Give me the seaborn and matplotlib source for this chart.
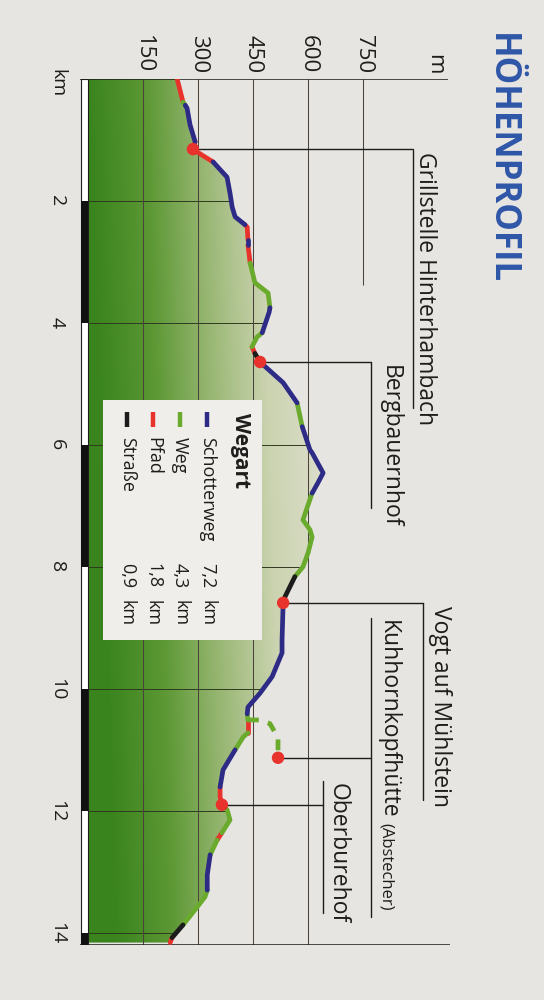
import numpy as np
import pandas as pd
import matplotlib
matplotlib.use('Agg')
import matplotlib.pyplot as plt
import seaborn as sns
from matplotlib.colors import LinearSegmentedColormap
from matplotlib.patches import Rectangle

# --- data ------------------------------------------------------------------
profile_km = [0.00, 0.38, 0.43, 0.48, 0.75, 1.03, 1.15, 1.26, 1.36, 1.61,
              1.87, 2.10, 2.26, 2.39, 2.43, 2.64, 2.72, 3.02, 3.34, 3.51,
              3.75, 3.82, 4.16, 4.23, 4.39, 4.50, 4.64, 4.98, 5.31, 5.70,
              6.08, 6.13, 6.46, 6.62, 6.79, 7.23, 7.39, 7.51, 7.77, 8.00,
              8.16, 8.49, 8.59, 9.20, 9.41, 9.80, 10.07, 10.30, 10.41, 10.51,
              10.72, 10.79, 11.00, 11.33, 11.61, 11.77, 11.90, 11.98, 12.15, 12.36,
              12.48, 12.72, 13.05, 13.30, 13.41, 13.62, 13.87, 14.08, 14.16]
profile_elev = [243, 259, 265, 270, 278, 292, 286, 314, 341, 379,
                387, 393, 401, 428, 434, 436, 436, 442, 455, 491,
                496, 494, 475, 461, 447, 455, 469, 532, 570, 584,
                605, 611, 641, 627, 611, 586, 605, 611, 600, 586,
                564, 537, 532, 529, 529, 502, 469, 436, 434, 436,
                436, 423, 401, 368, 360, 360, 365, 379, 387, 365,
                352, 333, 325, 325, 319, 292, 259, 229, 224]
# path type of each stretch between two neighbouring points
profile_type = ['Pfad', 'Weg', 'Schotterweg', 'Schotterweg', 'Schotterweg', 'Pfad', 'Pfad', 'Pfad',
                'Schotterweg', 'Schotterweg', 'Schotterweg', 'Schotterweg', 'Schotterweg',
                'Pfad', 'Pfad', 'Schotterweg', 'Pfad', 'Weg', 'Weg', 'Weg',
                'Schotterweg', 'Schotterweg', 'Weg', 'Weg', 'Pfad', 'Straße',
                'Schotterweg', 'Schotterweg', 'Weg', 'Schotterweg', 'Schotterweg', 'Schotterweg',
                'Schotterweg', 'Schotterweg', 'Weg', 'Weg', 'Weg', 'Weg', 'Weg', 'Weg',
                'Straße', 'Straße', 'Schotterweg', 'Schotterweg', 'Schotterweg', 'Schotterweg',
                'Schotterweg', 'Schotterweg', 'Weg', 'Pfad', 'Weg', 'Weg',
                'Schotterweg', 'Schotterweg', 'Pfad', 'Pfad', 'Weg', 'Weg', 'Weg', 'Pfad',
                'Weg', 'Schotterweg', 'Schotterweg', 'Weg', 'Weg', 'Weg', 'Straße', 'Pfad']

# side trip (Abstecher) to the Kuhhornkopfhütte
spur_km = [10.51, 10.51, 10.57, 10.80, 11.13]
spur_elev = [436, 469, 496, 518, 518]

stop_names = ['Grillstelle Hinterhambach', 'Bergbauernhof', 'Vogt auf Mühlstein',
              'Kuhhornkopfhütte', 'Oberburehof']
stop_km = [1.15, 4.64, 8.59, 11.13, 11.90]
stop_elev = [286, 469, 532, 518, 365]

wegart_names = ['Schotterweg', 'Weg', 'Pfad', 'Straße']
wegart_lengths = ['7,2', '4,3', '1,8', '0,9']

elev_ticks = [150, 300, 450, 600, 750]
km_ticks = [0, 2, 4, 6, 8, 10, 12, 14]
km_tick_labels = ['km', '2', '4', '6', '8', '10', '12', '14']
km_total = 14.2

# --- styling ---------------------------------------------------------------
bg = '#e7e5e1'
ink = '#1f1d1b'
palette = {'Schotterweg': '#2d2b86', 'Weg': '#6aab2d', 'Pfad': '#e8332d', 'Straße': '#1c1c1c'}

sns.set_style('white')
plt.rcParams['font.family'] = ['Open Sans', 'DejaVu Sans']

fig = plt.figure(figsize=(5.44, 10), dpi=100)
fig.patch.set_facecolor(bg)
ax = fig.add_axes([80 / 544, 0.055, 370 / 544, 0.866])
ax.set_facecolor(bg)
ax.axis('off')

# gradient-filled terrain under the profile
cmap = LinearSegmentedColormap.from_list(
    'terrain_green', [(0, '#3a841e'), (0.25, '#5c9834'), (0.5, '#99b774'),
                      (0.75, '#cbd3b0'), (1, '#dddfcd')])
ee = np.linspace(0, 700, 300)
kk = np.linspace(0, km_total, 200)
E, K = np.meshgrid(ee, kk)
T = np.clip(E / 620 - 0.12 * K / km_total, 0, 1)
im = ax.imshow(T, extent=[0, 700, km_total, 0], origin='upper', cmap=cmap,
               vmin=0, vmax=1, aspect='auto', zorder=1)
area = ax.fill_betweenx(profile_km, 0, profile_elev, facecolor='none', edgecolor='none')
clip = area.get_paths()[0]
im.set_clip_path(clip, ax.transData)

# grid
hl = ax.hlines(km_ticks[1:], 0, 700, colors='#2e3a1f', lw=0.7, zorder=2)
hl.set_clip_path(clip, ax.transData)
ax.vlines(elev_ticks[:4], 0, km_total, colors='#4b4339', lw=0.75, zorder=2)
ax.vlines(elev_ticks[4], 0, 3.38, colors='#4b4339', lw=0.75, zorder=2)
ax.hlines(0, -22, 982, colors=ink, lw=1.1, zorder=3)
ax.hlines(km_total, -22, 987, colors=ink, lw=1.1, zorder=3)

# km scale bar on the left edge
ax.add_patch(Rectangle((-19, 0), 19, km_total, fc='white', ec=ink, lw=0.8, zorder=3))
for k0 in km_ticks[1::2]:
    ax.add_patch(Rectangle((-19, k0), 19, min(2, km_total - k0), fc='#111111', ec='none', zorder=3))

# legend box
ax.add_patch(Rectangle((41, 5.26), 433, 3.94, fc='#efeeea', ec='none', zorder=4))

# profile line, split into runs of one path type
rows = []
run = 0
for i, t in enumerate(profile_type):
    if i > 0 and t != profile_type[i - 1]:
        run += 1
    for j in (i, i + 1):
        rows.append({'km': profile_km[j], 'elev': profile_elev[j], 'wegart': t, 'run': run})
df = pd.DataFrame(rows)
sns.lineplot(data=df, x='elev', y='km', hue='wegart', units='run', estimator=None,
             sort=False, orient='y', palette=palette, legend=False, lw=3.4,
             solid_capstyle='round', zorder=5, ax=ax)

spur = pd.DataFrame({'km': spur_km, 'elev': spur_elev})
sns.lineplot(data=spur, x='elev', y='km', estimator=None, sort=False, orient='y',
             color=palette['Weg'], lw=3.4, linestyle=(0, (2.3, 2.0)), zorder=5, ax=ax)

ax.set_xlim(-22, 987)
ax.set_ylim(km_total, 0)

# leader lines and stop names (layout: leader end, underline start/end, text start)
layout = [(886, 1.16, 5.39, 903, 1.20),
          (772, 4.64, 7.03, 806, 4.69),
          (914, 8.59, 11.82, 944, 8.64),
          (772, 8.84, 13.74, 800, 8.87),
          (641, 11.51, 13.67, 663, 11.54)]
kuhhorn = None
for name, k, e, (lx, u0, u1, tx, ty) in zip(stop_names, stop_km, stop_elev, layout):
    ax.plot([e, lx], [k, k], color=ink, lw=1.0, zorder=4)
    ax.plot([lx, lx], [u0, u1], color=ink, lw=1.0, zorder=4)
    t = ax.text(tx, ty, name, rotation=-90, rotation_mode='anchor', ha='left',
                va='baseline', fontsize=16.5, color=ink, clip_on=False)
    if name == 'Kuhhornkopfhütte':
        kuhhorn = (t, tx)

# "(Abstecher)" follows the hut name in a smaller size
fig.canvas.draw()
t, tx = kuhhorn
bb = t.get_window_extent()
end_km = ax.transData.inverted().transform((bb.x0, bb.y0))[1]
ax.text(tx, end_km + 0.08, '(Abstecher)', rotation=-90, rotation_mode='anchor',
        ha='left', va='baseline', fontsize=12, color=ink, clip_on=False)

sns.scatterplot(x=stop_elev, y=stop_km, color='#e8332d', s=80, edgecolor='none',
                zorder=6, ax=ax)

# legend content
ax.text(415, 5.48, 'Wegart', rotation=-90, rotation_mode='anchor', ha='left',
        va='center', fontsize=15, fontweight='bold', color=ink, zorder=6)
for name, length, e in zip(wegart_names, wegart_lengths, [325, 251, 177, 106]):
    ax.plot([e, e], [5.46, 5.70], color=palette[name], lw=3.2, zorder=6,
            solid_capstyle='butt')
    ax.text(e, 5.87, name, rotation=-90, rotation_mode='anchor', ha='left',
            va='center', fontsize=13, color=ink, zorder=6)
    ax.text(e, 7.93, length, rotation=-90, rotation_mode='anchor', ha='left',
            va='center', fontsize=13, color=ink, zorder=6)
    ax.text(e, 8.54, 'km', rotation=-90, rotation_mode='anchor', ha='left',
            va='center', fontsize=13, color=ink, zorder=6)

# axis labels
for e in elev_ticks:
    ax.text(e, -0.1, str(e), rotation=-90, rotation_mode='anchor', ha='right',
            va='center', fontsize=16, color=ink, clip_on=False)
ax.text(944, -0.07, 'm', rotation=-90, rotation_mode='anchor', ha='right',
        va='center', fontsize=16, color=ink, clip_on=False)
for k, lab in zip(km_ticks, km_tick_labels):
    ax.text(-85, k + (0.07 if lab == 'km' else 0), lab, rotation=-90,
            rotation_mode='anchor', ha='center', va='center', fontsize=14,
            color=ink, clip_on=False)

fig.text(501 / 544, 1 - 33 / 1000, 'HÖHENPROFIL', rotation=-90, rotation_mode='anchor',
         ha='left', va='center', fontsize=25, fontweight='bold', color='#2e56a8')

ax.set_xlim(-22, 987)
ax.set_ylim(km_total, 0)
fig.savefig('out.png', dpi=100, facecolor=bg)
